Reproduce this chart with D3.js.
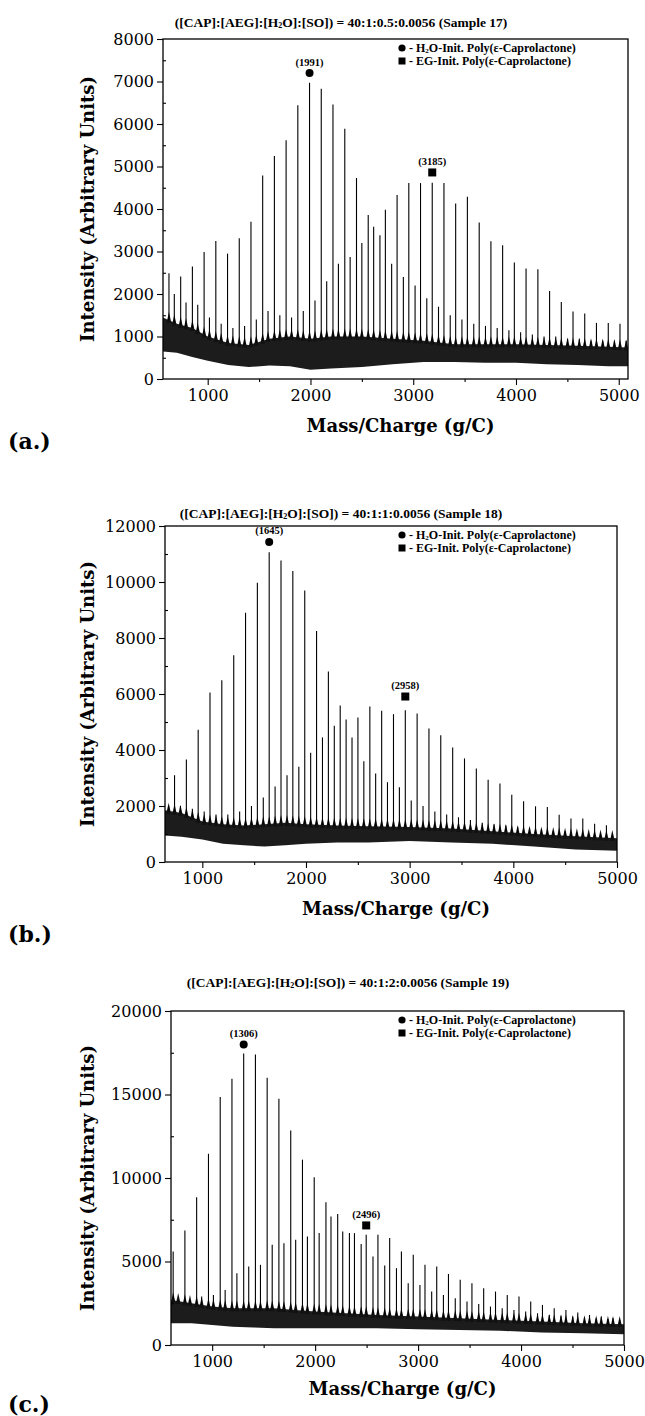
<!DOCTYPE html>
<html>
<head>
<meta charset="utf-8">
<script src="https://cdn.jsdelivr.net/npm/d3@7"></script>
<style>
  html, body { margin: 0; padding: 0; background: #fff; }
  svg text { fill: #000; }
</style>
</head>
<body>
<svg id="chart" width="645" height="1416"></svg>
<script>
"use strict";

// ---- shared labels ----
const xTicks = [1000, 2000, 3000, 4000, 5000];
const xMinor = [1500, 2500, 3500, 4500];
const sampleLabels = ["Sample 17", "Sample 18", "Sample 19"];
const ratioLabels = ["40:1:0.5:0.0056", "40:1:1:0.0056", "40:1:2:0.0056"];
const legendLabels = ["O-Init. Poly(\u03b5-Caprolactone)", "EG-Init. Poly(\u03b5-Caprolactone)"];

// ---- (a) sample 17 ----
const h2oMzA = [623, 737, 851, 965, 1079, 1193, 1307, 1421, 1535, 1649, 1763, 1877, 1991, 2105, 2219, 2334, 2448, 2562, 2676, 2790,
                2904, 3018, 3132, 3246, 3360, 3474, 3589, 3703, 3817, 3931, 4045, 4159, 4273, 4387, 4502, 4616, 4730, 4844, 4958, 5072];
const h2oIntA = [2490, 2410, 2650, 2990, 3250, 2950, 3310, 3700, 4790, 5250, 5620, 6440, 6970, 6830, 6460, 5890, 4730, 3860, 3380, 2710,
                 2400, 2200, 1900, 1700, 1500, 1400, 1300, 1250, 1200, 1150, 1100, 1050, 1000, 1000, 950, 950, 900, 900, 900, 900];
const egMzA = [675, 789, 903, 1017, 1131, 1245, 1359, 1473, 1587, 1702, 1816, 1930, 2044, 2158, 2272, 2386, 2500, 2615, 2729, 2843,
               2957, 3071, 3185, 3299, 3413, 3527, 3642, 3756, 3870, 3984, 4098, 4213, 4327, 4441, 4555, 4669, 4783, 4898, 5012];
const egIntA = [2000, 1800, 1750, 1450, 1300, 1200, 1250, 1400, 1600, 1500, 1450, 1600, 1850, 2300, 2710, 2870, 3200, 3580, 3980, 4330,
                4610, 4610, 4620, 4610, 4130, 4290, 3680, 3240, 3150, 2740, 2600, 2580, 2070, 1810, 1590, 1540, 1320, 1320, 1300];
const baseMzA = [565, 700, 850, 1000, 1200, 1400, 1600, 1800, 2000, 2200, 2500, 2800, 3100, 3400, 3700, 4000, 4300, 4600, 4900, 5090];
const baseLoA = [650, 620, 520, 430, 330, 280, 320, 300, 220, 250, 280, 350, 400, 400, 380, 380, 350, 330, 300, 300];
const baseHiA = [1450, 1300, 1200, 1000, 850, 800, 950, 1000, 950, 1000, 1000, 950, 900, 820, 820, 820, 800, 780, 760, 740];
const yTicksA = [0, 1000, 2000, 3000, 4000, 5000, 6000, 7000, 8000];
const markMzA = [1991, 3185];
const markIntA = [7200, 4860];

// ---- (b) sample 18 ----
const h2oMzB = [732, 846, 960, 1074, 1188, 1303, 1417, 1531, 1645, 1759, 1873, 1988, 2102, 2216, 2330, 2444, 2558, 2672, 2786, 2901,
                3015, 3129, 3243, 3357, 3471, 3586, 3700, 3814, 3928, 4042, 4156, 4271, 4385, 4499, 4613, 4727, 4841, 4955];
const h2oIntB = [3100, 3660, 4720, 6050, 6490, 7380, 8900, 9970, 11060, 10770, 10390, 9700, 8250, 6800, 5590, 4450, 3600, 3160, 2850, 2670,
                 2200, 2000, 1800, 1700, 1600, 1500, 1400, 1350, 1300, 1250, 1200, 1150, 1100, 1100, 1050, 1000, 1000, 950];
const egMzB = [675, 789, 904, 1018, 1132, 1246, 1360, 1474, 1588, 1702, 1817, 1931, 2045, 2159, 2273, 2387, 2501, 2616, 2730, 2844,
               2958, 3072, 3186, 3300, 3415, 3529, 3643, 3757, 3871, 3985, 4099, 4214, 4328, 4442, 4556, 4670, 4784, 4898];
const egIntB = [2000, 2000, 1900, 1800, 1700, 1700, 1800, 2000, 2300, 2700, 3100, 3400, 3900, 4450, 4870, 5090, 5160, 5550, 5400, 5280,
                5420, 5300, 4770, 4530, 4090, 3700, 3340, 2940, 2800, 2400, 2170, 1990, 1960, 1690, 1550, 1550, 1370, 1310];
const baseMzB = [640, 800, 1000, 1200, 1400, 1600, 1800, 2000, 2300, 2600, 3000, 3400, 3800, 4200, 4600, 5000];
const baseLoB = [950, 900, 800, 650, 600, 550, 600, 650, 700, 700, 750, 700, 650, 550, 450, 400];
const baseHiB = [1850, 1750, 1450, 1350, 1300, 1350, 1400, 1350, 1300, 1280, 1250, 1200, 1100, 1000, 920, 850];
const yTicksB = [0, 2000, 4000, 6000, 8000, 10000, 12000];
const markMzB = [1645, 2958];
const markIntB = [11430, 5910];

// ---- (c) sample 19 ----
const h2oMzC = [621, 735, 849, 964, 1078, 1192, 1306, 1420, 1534, 1648, 1763, 1877, 1991, 2105, 2219, 2333, 2447, 2562, 2676, 2790,
                2904, 3018, 3132, 3246, 3361, 3475, 3589, 3703, 3817, 3931, 4045, 4160, 4274, 4388, 4502, 4616, 4730, 4844, 4958];
const h2oIntC = [5600, 6850, 8850, 11450, 14850, 15950, 17450, 17400, 16000, 14750, 12850, 11100, 10050, 8550, 7850, 6700, 6050, 5300, 4760, 4600,
                 3700, 3600, 3200, 3000, 2800, 2600, 2450, 2300, 2200, 2100, 2000, 1900, 1800, 1750, 1700, 1650, 1600, 1550, 1500];
const egMzC = [670, 784, 898, 1012, 1126, 1240, 1355, 1469, 1583, 1697, 1811, 1925, 2039, 2154, 2268, 2382, 2496, 2610, 2724, 2838,
               2953, 3067, 3181, 3295, 3409, 3523, 3637, 3752, 3866, 3980, 4094, 4208, 4322, 4436, 4551, 4665, 4779, 4893];
const egIntC = [2600, 2700, 2900, 3000, 3300, 4300, 4700, 4800, 6000, 6100, 6300, 6500, 6700, 7700, 6800, 6700, 6600, 6600, 6400, 5600,
                5400, 4800, 4700, 4250, 3900, 3700, 3400, 3200, 3000, 2900, 2600, 2400, 2200, 2100, 1950, 1800, 1700, 1600];
const baseMzC = [600, 800, 1000, 1200, 1400, 1600, 1800, 2000, 2300, 2600, 3000, 3400, 3800, 4200, 4600, 5000];
const baseLoC = [1300, 1300, 1200, 1100, 1050, 1000, 1000, 1000, 1000, 1000, 950, 900, 850, 750, 700, 650];
const baseHiC = [2700, 2500, 2300, 2200, 2200, 2200, 2100, 2000, 1900, 1800, 1700, 1600, 1500, 1400, 1300, 1250];
const yTicksC = [0, 5000, 10000, 15000, 20000];
const markMzC = [1306, 2496];
const markIntC = [18000, 7160];

// layout for each panel
const panels = [
    {letter: "(a.)", idx: 0, left: 163, right: 628, top: 39, bottom: 379, xDom: [565, 5090], yTicks: yTicksA, yMinorStep: 500,
     titleX: 341, titleY: 22, xTitleY: 425, letterY: 441,
     h2oMz: h2oMzA, h2oInt: h2oIntA, egMz: egMzA, egInt: egIntA, baseMz: baseMzA, baseLo: baseLoA, baseHi: baseHiA,
     markMz: markMzA, markInt: markIntA},
    {letter: "(b.)", idx: 1, left: 165, right: 617, top: 526, bottom: 862, xDom: [640, 5000], yTicks: yTicksB, yMinorStep: 1000,
     titleX: 341, titleY: 513, xTitleY: 908, letterY: 934,
     h2oMz: h2oMzB, h2oInt: h2oIntB, egMz: egMzB, egInt: egIntB, baseMz: baseMzB, baseLo: baseLoB, baseHi: baseHiB,
     markMz: markMzB, markInt: markIntB},
    {letter: "(c.)", idx: 2, left: 171, right: 624, top: 1011, bottom: 1345, xDom: [600, 5000], yTicks: yTicksC, yMinorStep: 2500,
     titleX: 348, titleY: 982, xTitleY: 1388, letterY: 1404,
     h2oMz: h2oMzC, h2oInt: h2oIntC, egMz: egMzC, egInt: egIntC, baseMz: baseMzC, baseLo: baseLoC, baseHi: baseHiC,
     markMz: markMzC, markInt: markIntC},
];

const svg = d3.select("#chart");
const SERIF = "'DejaVu Serif', serif";
const TIMES = "'Liberation Serif', 'Times New Roman', serif";

// writes "...H" + subscript 2 + "O..." into a text node
const chemText = function(sel, before, after, subSize){
    sel.append("tspan").text(before);
    sel.append("tspan").attr("dy", 3).attr("font-size", subSize).text("2");
    sel.append("tspan").attr("dy", -3).text(after);
};

const drawPanel = function(p){
    const x = d3.scaleLinear().domain(p.xDom).range([p.left, p.right]);
    const yMax = p.yTicks[p.yTicks.length - 1];
    const y = d3.scaleLinear().domain([0, yMax]).range([p.bottom, p.top]);

    const g = svg.append("g");
    const clipId = "clip" + p.idx;
    g.append("clipPath").attr("id", clipId).append("rect")
        .attr("x", p.left).attr("y", p.top)
        .attr("width", p.right - p.left).attr("height", p.bottom - p.top);

    const plot = g.append("g").attr("clip-path", "url(#" + clipId + ")");

    // noisy baseline band
    const band = d3.area()
        .x(d => x(d[0])).y0(d => y(d[1])).y1(d => y(d[2]));
    plot.append("path")
        .datum(d3.zip(p.baseMz, p.baseLo, p.baseHi))
        .attr("d", band)
        .attr("fill", "#1c1c1c");

    // peaks of both series
    const bandTop = d3.scaleLinear().domain(p.baseMz).range(p.baseHi).clamp(true);
    const peaks = d3.zip(p.h2oMz, p.h2oInt).concat(d3.zip(p.egMz, p.egInt));

    plot.selectAll("path.skirt").data(peaks).join("path")
        .attr("class", "skirt")
        .attr("d", d => {
            const px = x(d[0]), yb = y(bandTop(d[0]));
            return "M" + (px - 2.4) + "," + (yb + 3) + "L" + px + "," + (yb - 8) + "L" + (px + 2.4) + "," + (yb + 3) + "Z";
        })
        .attr("fill", "#111");

    plot.selectAll("line.peak").data(peaks).join("line")
        .attr("class", "peak")
        .attr("x1", d => x(d[0])).attr("x2", d => x(d[0]))
        .attr("y1", d => y(bandTop(d[0]))).attr("y2", d => y(d[1]))
        .attr("stroke", "#000").attr("stroke-width", 1.1);

    // frame
    g.append("rect")
        .attr("x", p.left).attr("y", p.top)
        .attr("width", p.right - p.left).attr("height", p.bottom - p.top)
        .attr("fill", "none").attr("stroke", "#000").attr("stroke-width", 1.3);

    // axes
    const xAxis = g.append("g").attr("transform", "translate(0," + p.bottom + ")")
        .call(d3.axisBottom(x).tickValues(xTicks).tickSize(6).tickPadding(5).tickFormat(d3.format("d")));
    xAxis.select(".domain").remove();
    xAxis.selectAll("text").attr("font-family", SERIF).attr("font-size", 16);

    g.append("g").attr("transform", "translate(0," + p.bottom + ")")
        .call(d3.axisBottom(x).tickValues(xMinor).tickSize(3).tickFormat(""))
        .select(".domain").remove();

    const yAxis = g.append("g").attr("transform", "translate(" + p.left + ",0)")
        .call(d3.axisLeft(y).tickValues(p.yTicks).tickSize(6).tickPadding(3).tickFormat(d3.format("d")));
    yAxis.select(".domain").remove();
    yAxis.selectAll("text").attr("font-family", SERIF).attr("font-size", 16);

    g.append("g").attr("transform", "translate(" + p.left + ",0)")
        .call(d3.axisLeft(y).tickValues(d3.range(p.yMinorStep, yMax, p.yMinorStep * 2)).tickSize(-3).tickFormat(""))
        .select(".domain").remove();

    g.selectAll(".tick line").attr("stroke-width", 1.1);

    // axis titles
    g.append("text")
        .attr("x", (p.left + p.right) / 2 + 5).attr("y", p.xTitleY)
        .attr("text-anchor", "middle").attr("dominant-baseline", "central")
        .attr("font-family", SERIF).attr("font-weight", "bold").attr("font-size", 18)
        .text("Mass/Charge (g/C)");

    g.append("text")
        .attr("transform", "translate(87," + ((p.top + p.bottom) / 2) + ") rotate(-90)")
        .attr("text-anchor", "middle").attr("dominant-baseline", "central")
        .attr("font-family", SERIF).attr("font-weight", "bold").attr("font-size", 18)
        .text("Intensity (Arbitrary Units)");

    g.append("text")
        .attr("x", 8).attr("y", p.letterY)
        .attr("dominant-baseline", "central")
        .attr("font-family", SERIF).attr("font-weight", "bold").attr("font-size", 22)
        .text(p.letter);

    // title
    const title = g.append("text")
        .attr("x", p.titleX).attr("y", p.titleY)
        .attr("text-anchor", "middle").attr("dominant-baseline", "central")
        .attr("font-family", TIMES).attr("font-weight", "bold").attr("font-size", 13.5);
    chemText(title, "([CAP]:[AEG]:[H", "O]:[SO]) = " + ratioLabels[p.idx] + " (" + sampleLabels[p.idx] + ")", 8);

    // legend
    const lx = 402;
    const leg = g.append("g");
    leg.append("circle").attr("cx", lx).attr("cy", p.top + 9).attr("r", 3.6).attr("fill", "#000");
    leg.append("rect").attr("x", lx - 3.5).attr("y", p.top + 22 - 3.5).attr("width", 7).attr("height", 7).attr("fill", "#000");
    const l1 = leg.append("text").attr("x", lx + 7).attr("y", p.top + 9)
        .attr("dominant-baseline", "central")
        .attr("font-family", TIMES).attr("font-weight", "bold").attr("font-size", 12);
    chemText(l1, "- H", legendLabels[0], 7);
    leg.append("text").attr("x", lx + 7).attr("y", p.top + 22)
        .attr("dominant-baseline", "central")
        .attr("font-family", TIMES).attr("font-weight", "bold").attr("font-size", 12)
        .text("- " + legendLabels[1]);

    // marked maxima
    const marks = d3.zip(p.markMz, p.markInt);
    g.selectAll("circle.mk").data(marks.slice(0, 1)).join("circle")
        .attr("class", "mk")
        .attr("cx", d => x(d[0])).attr("cy", d => y(d[1])).attr("r", 4).attr("fill", "#000");
    g.selectAll("rect.mk").data(marks.slice(1)).join("rect")
        .attr("class", "mk")
        .attr("x", d => x(d[0]) - 4).attr("y", d => y(d[1]) - 4).attr("width", 8).attr("height", 8).attr("fill", "#000");
    g.selectAll("text.mk").data(marks).join("text")
        .attr("class", "mk")
        .attr("x", d => x(d[0])).attr("y", d => y(d[1]) - 11)
        .attr("text-anchor", "middle").attr("dominant-baseline", "central")
        .attr("font-family", TIMES).attr("font-weight", "bold").attr("font-size", 10.5)
        .text(d => "(" + d[0] + ")");
};

panels.forEach(drawPanel);
</script>
</body>
</html>
